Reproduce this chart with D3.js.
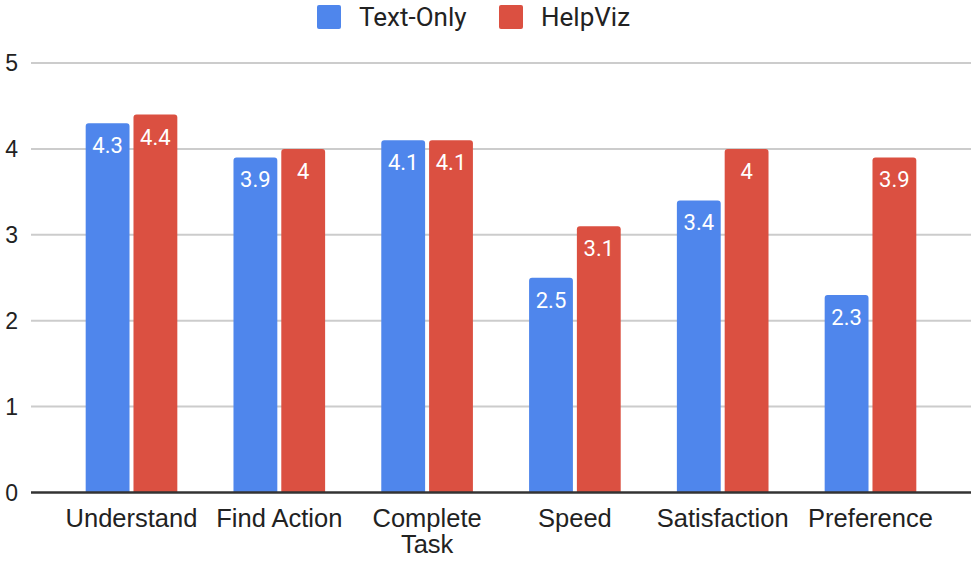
<!DOCTYPE html>
<html>
<head>
<meta charset="utf-8">
<script src="https://cdn.jsdelivr.net/npm/d3@7"></script>
<style>
  body { margin: 0; background: #fff; }
  svg { display: block; }
</style>
</head>
<body>
<svg id="chart" width="978" height="562"></svg>
<script>
  // chart data
  const categories = ["Understand", "Find Action", "Complete Task", "Speed", "Satisfaction", "Preference"];
  const seriesNames = ["Text-Only", "HelpViz"];
  const textOnly = [4.3, 3.9, 4.1, 2.5, 3.4, 2.3];
  const helpViz = [4.4, 4.0, 4.1, 3.1, 4.0, 3.9];
  const yTicks = [0, 1, 2, 3, 4, 5];

  const colors = ["#4f86ec", "#db5041"];
  const width = 978, height = 562;
  const plot = {left: 31, right: 971, top: 63, bottom: 492.5};

  const svg = d3.select("#chart");

  const rows = categories.map((c, i) => ({cat: c, values: [textOnly[i], helpViz[i]]}));

  const x0 = d3.scaleBand()
    .domain(categories)
    .range([plot.left, plot.right])
    .paddingInner(0.38)
    .paddingOuter(0.37);

  const x1 = d3.scaleBand()
    .domain(seriesNames)
    .range([0, x0.bandwidth()])
    .paddingInner(0.083);

  const y = d3.scaleLinear()
    .domain([0, 5])
    .range([plot.bottom, plot.top]);

  // gridlines
  svg.append("g")
    .selectAll("line")
    .data(yTicks.filter(d => d > 0))
    .join("line")
      .attr("x1", plot.left)
      .attr("x2", plot.right)
      .attr("y1", d => y(d))
      .attr("y2", d => y(d))
      .attr("stroke", "#cccccc")
      .attr("stroke-width", 2);

  // y tick labels
  svg.append("g")
    .selectAll("text")
    .data(yTicks)
    .join("text")
      .attr("x", 18)
      .attr("y", d => y(d) + 8)
      .attr("text-anchor", "end")
      .attr("font-family", "Liberation Sans, Arial, sans-serif")
      .attr("font-size", 23)
      .attr("fill", "#222")
      .text(d => d);

  // rounded-top bar path
  function barPath(x, yTop, w, yBase, r) {
    const p = d3.path();
    p.moveTo(x, yBase);
    p.lineTo(x, yTop + r);
    p.arcTo(x, yTop, x + r, yTop, r);
    p.lineTo(x + w - r, yTop);
    p.arcTo(x + w, yTop, x + w, yTop + r, r);
    p.lineTo(x + w, yBase);
    p.closePath();
    return p.toString();
  }

  const groups = svg.append("g")
    .selectAll("g")
    .data(rows)
    .join("g")
      .attr("transform", d => `translate(${x0(d.cat)},0)`);

  const bars = groups.selectAll("g")
    .data(d => d.values.map((v, i) => ({series: seriesNames[i], value: v, i: i})))
    .join("g");

  bars.append("path")
    .attr("d", d => barPath(x1(d.series), y(d.value), x1.bandwidth(), y(0), 3))
    .attr("fill", d => colors[d.i]);

  bars.append("text")
    .attr("x", d => x1(d.series) + x1.bandwidth() / 2)
    .attr("y", d => y(d.value) + 30)
    .attr("text-anchor", "middle")
    .attr("font-family", "Roboto, sans-serif")
    .attr("font-size", 22)
    .attr("fill", "#fff")
    .text(d => d.value);

  // baseline
  svg.append("line")
    .attr("x1", plot.left)
    .attr("x2", plot.right)
    .attr("y1", y(0))
    .attr("y2", y(0))
    .attr("stroke", "#333")
    .attr("stroke-width", 2.5);

  // category labels, wrapped when too wide
  const catLabels = svg.append("g")
    .selectAll("text")
    .data(categories)
    .join("text")
      .attr("x", d => x0(d) + x0.bandwidth() / 2)
      .attr("y", 527)
      .attr("text-anchor", "middle")
      .attr("font-family", "Liberation Sans, Arial, sans-serif")
      .attr("font-size", 25.5)
      .attr("fill", "#222");

  catLabels.each(function(d) {
    const words = d === "Complete Task" ? d.split(" ") : [d];
    const t = d3.select(this);
    words.forEach((w, k) => {
      t.append("tspan")
        .attr("x", x0(d) + x0.bandwidth() / 2)
        .attr("dy", k === 0 ? 0 : 26)
        .text(w);
    });
  });

  // legend
  const legendItems = [
    {name: seriesNames[0], color: colors[0], x: 317},
    {name: seriesNames[1], color: colors[1], x: 499}
  ];
  const legend = svg.append("g")
    .selectAll("g")
    .data(legendItems)
    .join("g")
      .attr("transform", d => `translate(${d.x},5)`);

  legend.append("rect")
    .attr("width", 24)
    .attr("height", 24)
    .attr("rx", 2)
    .attr("fill", d => d.color);

  legend.append("text")
    .attr("x", 42)
    .attr("y", 21)
    .attr("font-family", "Roboto, sans-serif")
    .attr("font-size", 26)
    .attr("fill", "#222")
    .text(d => d.name);
</script>
</body>
</html>
